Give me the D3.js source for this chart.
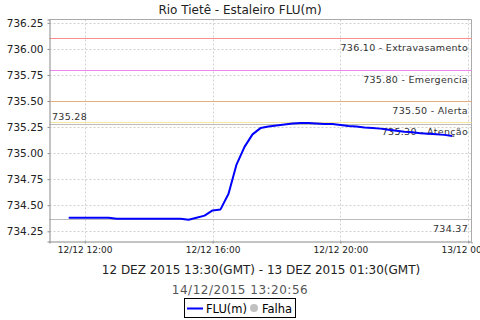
<!DOCTYPE html>
<html><head><meta charset="utf-8">
<script src="https://cdn.jsdelivr.net/npm/d3@7"></script>
<style>body{margin:0;background:#fff}svg{display:block}text{font-family:"DejaVu Sans",sans-serif}</style>
</head><body><svg id="c" width="480" height="320"></svg>
<script>
const times = ["11:30","11:45","12:00","12:15","12:30","12:45","13:00","13:15","13:30","13:45","14:00","14:15","14:30","14:45","15:00","15:15","15:30","15:45","16:00","16:15","16:30","16:45","17:00","17:15","17:30","17:45","18:00","18:15","18:30","18:45","19:00","19:15","19:30","19:45","20:00","20:15","20:30","20:45","21:00","21:15","21:30","21:45","22:00","22:15","22:30","22:45","23:00","23:15","23:30"];
const values = [734.38,734.38,734.38,734.38,734.38,734.38,734.37,734.37,734.37,734.37,734.37,734.37,734.37,734.37,734.37,734.36,734.38,734.40,734.45,734.46,734.61,734.89,735.06,735.18,735.24,735.255,735.265,735.275,735.285,735.29,735.29,735.285,735.28,735.28,735.27,735.26,735.255,735.245,735.24,735.235,735.225,735.215,735.205,735.20,735.19,735.185,735.18,735.175,735.165];
const thresholds = [736.10,735.80,735.50,735.30];
const thresholdNames = ["Extravasamento","Emergencia","Alerta","Atenção"];
const thresholdColors = ["#ff8c8c","#ee88ee","#e8b080","#f5e6a0"];
const yTicks = [734.25,734.50,734.75,735.00,735.25,735.50,735.75,736.00,736.25];
const xTickLabels = ["12/12 12:00","12/12 16:00","12/12 20:00","13/12 00:00"];
const xTickTimes = ["2015-12-12T12:00","2015-12-12T16:00","2015-12-12T20:00","2015-12-13T00:00"];
const maxVal = 735.28, minVal = 734.37;
const title = "Rio Tietê - Estaleiro FLU(m)";
const subtitle = "12 DEZ 2015 13:30(GMT) - 13 DEZ 2015 01:30(GMT)";
const stamp = "14/12/2015 13:20:56";

const parse = d3.timeParse("%Y-%m-%dT%H:%M");
const data = times.map((t,i)=>({t:parse("2015-12-12T"+t), v:values[i]}));
const svg = d3.select("#c");
svg.append("rect").attr("width",480).attr("height",320).attr("fill","#fff");
const L=49.5,R=471.5,T=19.5,B=241.5;
const x = d3.scaleTime().domain([parse("2015-12-12T10:54"),parse("2015-12-13T00:06")]).range([L,R]);
const y = d3.scaleLinear().domain([734.152,736.282]).range([B,T]);

const g = svg.append("g");
// grid
g.selectAll(".hg").data(yTicks).join("line").attr("x1",L).attr("x2",R)
 .attr("y1",d=>Math.round(y(d))+0.5).attr("y2",d=>Math.round(y(d))+0.5)
 .attr("stroke","#d0d0d0").attr("stroke-dasharray","2,2");
g.selectAll(".vg").data(xTickTimes).join("line")
 .attr("x1",d=>Math.round(x(parse(d)))+0.5).attr("x2",d=>Math.round(x(parse(d)))+0.5)
 .attr("y1",T).attr("y2",B).attr("stroke","#d0d0d0").attr("stroke-dasharray","2,2");
// border top/right
g.append("path").attr("d",`M${L},${T}H${R}V${B}`).attr("fill","none").attr("stroke","#aaa");

// thresholds
thresholds.forEach((v,i)=>{
  const yy=Math.round(y(v))+0.5;
  g.append("line").attr("x1",L).attr("x2",R).attr("y1",yy).attr("y2",yy).attr("stroke",thresholdColors[i]);
  g.append("text").attr("x",468).attr("y",yy+12).attr("text-anchor","end").attr("font-size",9.5)
   .attr("fill","#333").attr("letter-spacing","0.3").text(v.toFixed(2)+" - "+thresholdNames[i]);
});
// max/min
[maxVal,minVal].forEach((v,i)=>{
  const yy=Math.round(y(v))+0.5;
  g.append("line").attr("x1",L).attr("x2",R).attr("y1",yy).attr("y2",yy).attr("stroke","#bbb");
});
g.append("text").attr("x",52).attr("y",Math.round(y(maxVal))-4).attr("font-size",9.5).attr("fill","#333").attr("letter-spacing","0.3").text(maxVal.toFixed(2));
g.append("text").attr("x",468).attr("y",Math.round(y(minVal))+13).attr("text-anchor","end").attr("font-size",9.5).attr("fill","#333").attr("letter-spacing","0.3").text(minVal.toFixed(2));

// line
g.append("path").datum(data).attr("fill","none").attr("stroke","#0000ff").attr("stroke-width",2)
 .attr("stroke-linejoin","round").attr("d",d3.line().x(d=>x(d.t)).y(d=>y(d.v)));

// axes
const ya = svg.append("g").attr("transform",`translate(${L},0)`)
 .call(d3.axisLeft(y).tickValues(yTicks).tickFormat(d3.format(".2f")).tickSize(2).tickPadding(4));
ya.select(".domain").attr("stroke","#888");
ya.selectAll("text").attr("font-size",10.5).attr("fill","#222").style("font-family","DejaVu Sans");
ya.selectAll(".tick line").attr("stroke","#888");
const xa = svg.append("g").attr("transform",`translate(0,${B})`)
 .call(d3.axisBottom(x).tickValues(xTickTimes.map(parse)).tickFormat((d,i)=>xTickLabels[i]).tickSize(2).tickPadding(3));
xa.select(".domain").attr("stroke","#888");
xa.selectAll("text").attr("font-size",9).attr("fill","#222").style("font-family","DejaVu Sans");
xa.selectAll(".tick line").attr("stroke","#888");

// titles
svg.append("text").attr("x",240).attr("y",14).attr("text-anchor","middle").attr("font-size",12).attr("fill","#222").text(title);
svg.append("text").attr("x",261).attr("y",274).attr("text-anchor","middle").attr("font-size",12).attr("fill","#222").text(subtitle);
svg.append("text").attr("x",240).attr("y",294).attr("text-anchor","middle").attr("font-size",12).attr("fill","#555").attr("letter-spacing","0.5").text(stamp);

// legend
const lg = svg.append("g");
lg.append("rect").attr("x",184.5).attr("y",298.5).attr("width",111).attr("height",19).attr("fill","#fff").attr("stroke","#000");
lg.append("line").attr("x1",187).attr("x2",203).attr("y1",308.5).attr("y2",308.5).attr("stroke","#0000ff").attr("stroke-width",2);
lg.append("text").attr("x",206).attr("y",313).attr("font-size",11.5).attr("fill","#000").text("FLU(m)");
lg.append("circle").attr("cx",254).attr("cy",308).attr("r",4).attr("fill","#c0c0c0");
lg.append("text").attr("x",262).attr("y",313).attr("font-size",11.5).attr("fill","#000").text("Falha");
</script></body></html>
